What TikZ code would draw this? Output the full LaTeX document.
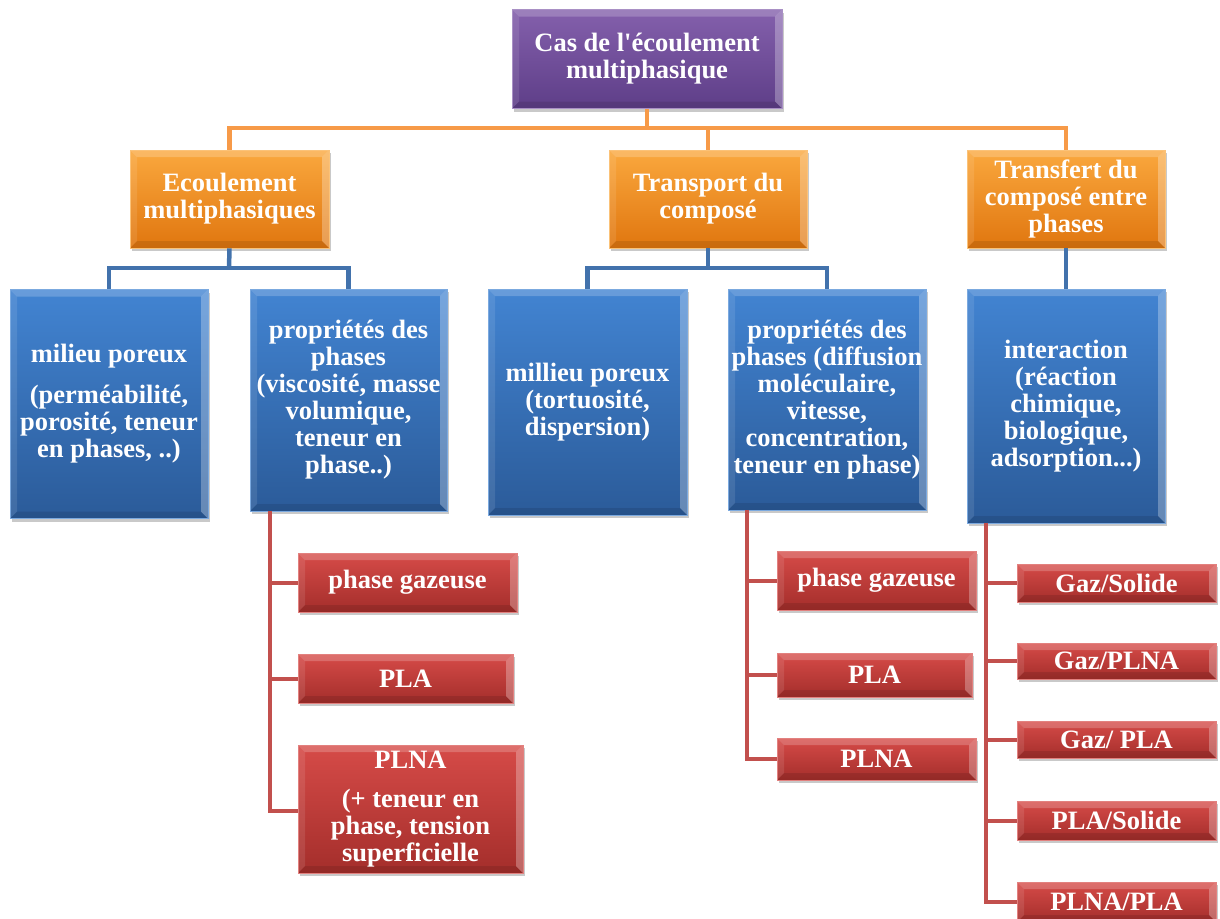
\documentclass[tikz,border=0pt]{standalone}
\usepackage{fontspec}
\setmainfont{Liberation Serif}[Ligatures=TeXOff]
\usetikzlibrary{shadows}
\definecolor{purpT}{HTML}{8460AC}
\definecolor{purpB}{HTML}{5E3E88}
\definecolor{orT}{HTML}{FAA83E}
\definecolor{orB}{HTML}{E0760F}
\definecolor{blT}{HTML}{4284D2}
\definecolor{blB}{HTML}{2B5B99}
\definecolor{rdT}{HTML}{D64B48}
\definecolor{rdB}{HTML}{A42E2B}
\definecolor{orLine}{HTML}{F79A48}
\definecolor{blLine}{HTML}{4272AC}
\definecolor{rdLine}{HTML}{C2504D}
\tikzset{
  bevel/.style={path picture={
    \coordinate (ppnw) at (path picture bounding box.north west);
    \coordinate (ppne) at (path picture bounding box.north east);
    \coordinate (ppsw) at (path picture bounding box.south west);
    \coordinate (ppse) at (path picture bounding box.south east);
    \fill[white,opacity=0.20] (ppnw) -- (ppne) -- ([shift={(-7pt,-7pt)}]ppne) -- ([shift={(7pt,-7pt)}]ppnw) -- cycle;
    \fill[white,opacity=0.10] (ppnw) -- ([shift={(7pt,-7pt)}]ppnw) -- ([shift={(7pt,7pt)}]ppsw) -- (ppsw) -- cycle;
    \fill[black,opacity=0.10] (ppsw) -- ([shift={(7pt,7pt)}]ppsw) -- ([shift={(-7pt,7pt)}]ppse) -- (ppse) -- cycle;
    \fill[white,opacity=0.28] (ppne) -- (ppse) -- ([shift={(-7pt,7pt)}]ppse) -- ([shift={(-7pt,-7pt)}]ppne) -- cycle;
  }},
  basebox/.style={rectangle, bevel, inner sep=1pt, align=center, text=white,
    font=\bfseries\fontsize{26.5}{27}\selectfont,
    drop shadow={shadow xshift=2pt, shadow yshift=-3pt, opacity=0.35, fill=black!60}},
  purpbox/.style={basebox, top color=purpT, bottom color=purpB, draw=purpT!70!white, line width=0.6pt},
  orbox/.style={basebox, top color=orT, bottom color=orB, draw=orT!70!white, line width=0.6pt},
  blbox/.style={basebox, top color=blT, bottom color=blB, draw=blT!70!white, line width=0.6pt},
  rdbox/.style={basebox, top color=rdT, bottom color=rdB, draw=rdT!70!white, line width=0.6pt},
  oline/.style={draw=orLine, line width=4.5pt},
  bline/.style={draw=blLine, line width=4.5pt},
  rline/.style={draw=rdLine, line width=4pt},
}
\begin{document}
\begin{tikzpicture}[x=1pt,y=-1pt]
\useasboundingbox[fill=white] (0,0) rectangle (1220,918);

\coordinate (ojoin) at (647,128);
\coordinate (bjoin1) at (229,268);
\coordinate (bjoin2) at (708,268);

\node[purpbox, minimum width=270pt, minimum height=99pt] (top) at (647,59) {Cas de l'écoulement\\multiphasique};
\node[orbox, minimum width=199pt, minimum height=98pt] (o1) at (229.5,199) {Ecoulement\\multiphasiques};
\node[orbox, minimum width=198pt, minimum height=98pt] (o2) at (708,199) {Transport du\\composé};
\node[orbox, minimum width=198pt, minimum height=98pt] (o3) at (1066,199) {Transfert du\\composé entre\\phases};

\node[blbox, minimum width=198pt, minimum height=229pt] (b1) at (109,404) {milieu poreux\\[14pt](perméabilité,\\porosité, teneur\\en phases, ..)};
\node[blbox, minimum width=197pt, minimum height=222pt] (b2) at (348.5,400) {propriétés des\\phases\\(viscosité, masse\\volumique,\\teneur en\\phase..)};
\node[blbox, minimum width=199pt, minimum height=226pt] (b3) at (587.5,402) {millieu poreux\\(tortuosité,\\dispersion)};
\node[blbox, minimum width=198pt, minimum height=221pt] (b4) at (827,399.5) {propriétés des\\phases (diffusion\\moléculaire,\\vitesse,\\concentration,\\teneur en phase)};
\node[blbox, minimum width=198pt, minimum height=234pt] (b5) at (1066,406) {interaction\\(réaction\\chimique,\\biologique,\\adsorption...)};

\node[rdbox, minimum width=219pt, minimum height=59pt] (r1a) at (407.5,582.5) {phase gazeuse};
\node[rdbox, minimum width=215pt, minimum height=49pt] (r1b) at (405.5,678.5) {PLA};
\node[rdbox, minimum width=225pt, minimum height=128pt] (r1c) at (410.5,809) {PLNA\\[12pt](+ teneur en\\phase, tension\\superficielle};

\node[rdbox, minimum width=199pt, minimum height=59pt] (r2a) at (876.5,580.5) {phase gazeuse};
\node[rdbox, minimum width=195pt, minimum height=44pt] (r2b) at (874.5,675) {PLA};
\node[rdbox, minimum width=199pt, minimum height=42pt] (r2c) at (876.5,759) {PLNA};

\node[rdbox, minimum width=199pt, minimum height=38pt] (r3a) at (1116.5,583) {Gaz/Solide};
\node[rdbox, minimum width=199pt, minimum height=36pt] (r3b) at (1116.5,661) {Gaz/PLNA};
\node[rdbox, minimum width=199pt, minimum height=37pt] (r3c) at (1116.5,739.5) {Gaz/ PLA};
\node[rdbox, minimum width=199pt, minimum height=39pt] (r3d) at (1116.5,820.5) {PLA/Solide};
\node[rdbox, minimum width=199pt, minimum height=40pt] (r3e) at (1116.5,902) {PLNA/PLA};

% orange connectors
\draw[oline] (top.south) -- (ojoin);
\draw[oline] (ojoin) -| (o1.north);
\draw[oline] (ojoin) -| (o2.north);
\draw[oline] (ojoin) -| (o3.north);
% blue connectors
\draw[bline] (o1.south) -- (bjoin1);
\draw[bline] (bjoin1) -| (b1.north);
\draw[bline] (bjoin1) -| (b2.north);
\draw[bline] (o2.south) -- (bjoin2);
\draw[bline] (bjoin2) -| (b3.north);
\draw[bline] (bjoin2) -| (b4.north);
\draw[bline] (o3.south) -- (b5.north);
% red connectors
\draw[rline] ([xshift=20pt]b2.south west) |- (r1a.west);
\draw[rline] ([xshift=20pt]b2.south west) |- (r1b.west);
\draw[rline] ([xshift=20pt]b2.south west) |- ([yshift=-2pt]r1c.west);
\draw[rline] ([xshift=19pt]b4.south west) |- (r2a.west);
\draw[rline] ([xshift=19pt]b4.south west) |- (r2b.west);
\draw[rline] ([xshift=19pt]b4.south west) |- (r2c.west);
\draw[rline] ([xshift=19pt]b5.south west) |- (r3a.west);
\draw[rline] ([xshift=19pt]b5.south west) |- (r3b.west);
\draw[rline] ([xshift=19pt]b5.south west) |- (r3c.west);
\draw[rline] ([xshift=19pt]b5.south west) |- (r3d.west);
\draw[rline] ([xshift=19pt]b5.south west) |- (r3e.west);
\end{tikzpicture}
\end{document}
